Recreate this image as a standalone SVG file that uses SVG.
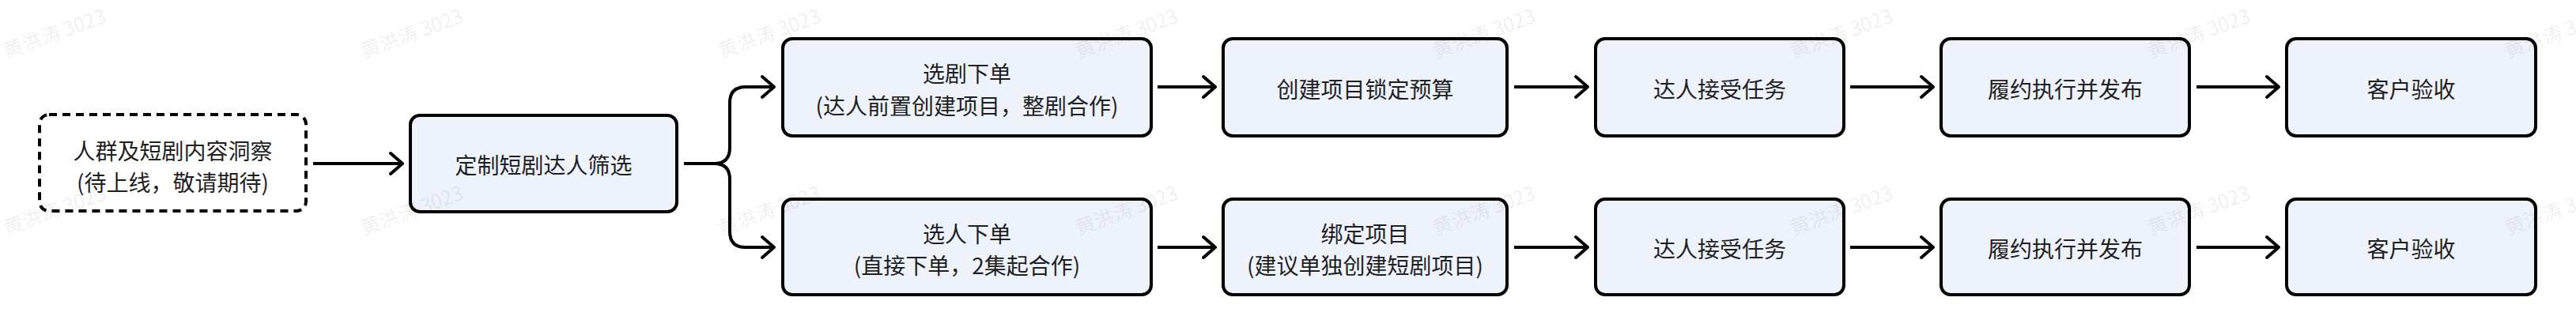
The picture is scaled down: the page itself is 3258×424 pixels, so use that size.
<svg xmlns="http://www.w3.org/2000/svg" width="3258" height="424" viewBox="0 0 3258 424">
<style>
.box{fill:#eef2fb;stroke:#000;stroke-width:4}
.dash{fill:#ffffff;stroke:#000;stroke-width:4;stroke-dasharray:10 7}
.t{font-family:"Noto Sans CJK SC","Noto Sans",sans-serif;font-size:28px;fill:#1f1f1f;text-anchor:middle;dominant-baseline:central}
.ln{fill:none;stroke:#000;stroke-width:4;marker-end:url(#ah)}
.wm{font-family:"Noto Sans CJK SC","Noto Sans",sans-serif;font-size:25px;fill:#000;fill-opacity:0.07}
</style>
<defs>
<marker id="ah" markerUnits="userSpaceOnUse" markerWidth="30" markerHeight="34" viewBox="-20 -17 30 34" refX="0" refY="0" orient="auto">
<path d="M -15 -13 L 0 0 L -15 13" fill="none" stroke="#000" stroke-width="4" stroke-linecap="round" stroke-linejoin="round"/>
</marker>
</defs>
<rect width="3258" height="424" fill="#ffffff"/>

<g id="n0">
<rect class="dash" x="50" y="145" width="337" height="122" rx="12"/>
<text class="t" x="218.5" y="190">人群及短剧内容洞察</text>
<text class="t" x="218.5" y="230">(待上线，敬请期待)</text>
</g>
<g id="n1">
<rect class="box" x="519" y="146" width="337" height="122" rx="12"/>
<text class="t" x="687.5" y="208">定制短剧达人筛选</text>
</g>

<g id="a1">
<rect class="box" x="990" y="49" width="466" height="123" rx="12"/>
<text class="t" x="1223" y="92">选剧下单</text>
<text class="t" x="1223" y="133">(达人前置创建项目，整剧合作)</text>
</g>
<g id="a2">
<rect class="box" x="1547" y="49" width="359" height="123" rx="12"/>
<text class="t" x="1726.5" y="112">创建项目锁定预算</text>
</g>
<g id="a3">
<rect class="box" x="2018" y="49" width="314" height="123" rx="12"/>
<text class="t" x="2175" y="112">达人接受任务</text>
</g>
<g id="a4">
<rect class="box" x="2455" y="49" width="314" height="123" rx="12"/>
<text class="t" x="2612" y="112">履约执行并发布</text>
</g>
<g id="a5">
<rect class="box" x="2892" y="49" width="315" height="123" rx="12"/>
<text class="t" x="3049.5" y="112">客户验收</text>
</g>

<g id="b1">
<rect class="box" x="990" y="252" width="466" height="121" rx="12"/>
<text class="t" x="1223" y="295">选人下单</text>
<text class="t" x="1223" y="335">(直接下单，2集起合作)</text>
</g>
<g id="b2">
<rect class="box" x="1547" y="252" width="359" height="121" rx="12"/>
<text class="t" x="1726.5" y="295">绑定项目</text>
<text class="t" x="1726.5" y="335">(建议单独创建短剧项目)</text>
</g>
<g id="b3">
<rect class="box" x="2018" y="252" width="314" height="121" rx="12"/>
<text class="t" x="2175" y="314">达人接受任务</text>
</g>
<g id="b4">
<rect class="box" x="2455" y="252" width="314" height="121" rx="12"/>
<text class="t" x="2612" y="314">履约执行并发布</text>
</g>
<g id="b5">
<rect class="box" x="2892" y="252" width="315" height="121" rx="12"/>
<text class="t" x="3049.5" y="314">客户验收</text>
</g>

<g id="connectors">
<path class="ln" d="M 396 207 H 509"/>
<path class="ln" d="M 865 207 H 903 Q 923 207 923 187 V 130 Q 923 110 943 110 H 979"/>
<path class="ln" d="M 865 207 H 903 Q 923 207 923 227 V 293 Q 923 313 943 313 H 979"/>
<path class="ln" d="M 1464 110 H 1537"/>
<path class="ln" d="M 1915 110 H 2008"/>
<path class="ln" d="M 2340 110 H 2445"/>
<path class="ln" d="M 2778 110 H 2882"/>
<path class="ln" d="M 1464 313 H 1537"/>
<path class="ln" d="M 1915 313 H 2008"/>
<path class="ln" d="M 2340 313 H 2445"/>
<path class="ln" d="M 2778 313 H 2882"/>
</g>

<g id="watermarks">
<text class="wm" transform="translate(8 74) rotate(-20)">黄洪涛 3023</text>
<text class="wm" transform="translate(460 74) rotate(-20)">黄洪涛 3023</text>
<text class="wm" transform="translate(912 74) rotate(-20)">黄洪涛 3023</text>
<text class="wm" transform="translate(1364 74) rotate(-20)">黄洪涛 3023</text>
<text class="wm" transform="translate(1816 74) rotate(-20)">黄洪涛 3023</text>
<text class="wm" transform="translate(2268 74) rotate(-20)">黄洪涛 3023</text>
<text class="wm" transform="translate(2720 74) rotate(-20)">黄洪涛 3023</text>
<text class="wm" transform="translate(3172 74) rotate(-20)">黄洪涛 3023</text>
<text class="wm" transform="translate(8 298) rotate(-20)">黄洪涛 3023</text>
<text class="wm" transform="translate(460 298) rotate(-20)">黄洪涛 3023</text>
<text class="wm" transform="translate(912 298) rotate(-20)">黄洪涛 3023</text>
<text class="wm" transform="translate(1364 298) rotate(-20)">黄洪涛 3023</text>
<text class="wm" transform="translate(1816 298) rotate(-20)">黄洪涛 3023</text>
<text class="wm" transform="translate(2268 298) rotate(-20)">黄洪涛 3023</text>
<text class="wm" transform="translate(2720 298) rotate(-20)">黄洪涛 3023</text>
<text class="wm" transform="translate(3172 298) rotate(-20)">黄洪涛 3023</text>
</g>
</svg>
